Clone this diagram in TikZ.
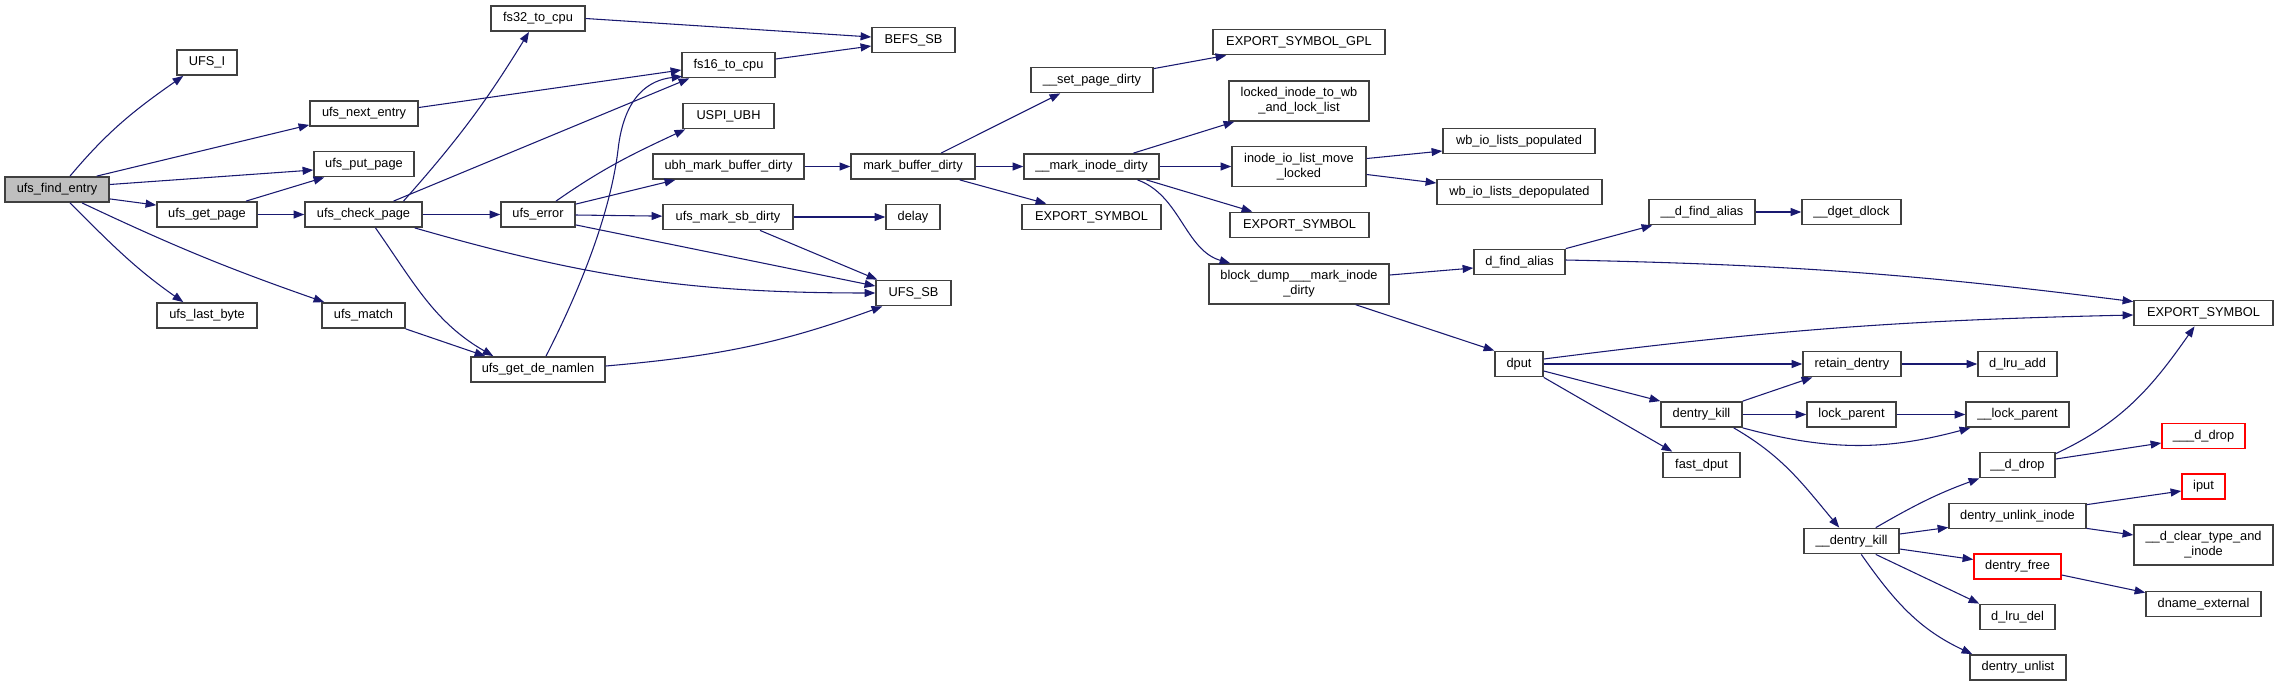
\documentclass[tikz,border=0pt]{standalone}
\usepackage{fontspec}
\setmainfont{Liberation Sans}
\usetikzlibrary{arrows.meta,calc}
\definecolor{callblue}{HTML}{191970}
\definecolor{rootgray}{HTML}{BFBFBF}
\definecolor{boxline}{HTML}{404040}
\begin{document}
\begin{tikzpicture}[x=0.75pt,y=-0.75pt,
  fn/.style={draw=boxline, line width=1.1pt, fill=white, rectangle, inner sep=0pt,
    minimum height=19pt, font=\fontsize{9.6}{11.3}\selectfont, align=center},
  root/.style={fn, fill=rootgray},
  redfn/.style={fn, draw=red},
  tall/.style={minimum height=30pt},
  call/.style={draw=callblue, line width=0.8pt, -{Triangle[length=8pt,width=6pt]}}]
\useasboundingbox (0,0) rectangle (2279,687);
% nodes
\node[root, minimum width=78pt] (find) at (57,189.5) {ufs\_find\_entry};
\node[fn, minimum width=45pt] (ufsi) at (207,62.5) {UFS\_I};
\node[fn, minimum width=81pt] (nextentry) at (364,113.5) {ufs\_next\_entry};
\node[fn, minimum width=75pt] (putpage) at (364,164) {ufs\_put\_page};
\node[fn, minimum width=75pt] (getpage) at (207,214.5) {ufs\_get\_page};
\node[fn, minimum width=87.75pt] (checkpage) at (363.5,214.5) {ufs\_check\_page};
\node[fn, minimum width=75pt] (lastbyte) at (207,315.5) {ufs\_last\_byte};
\node[fn, minimum width=62.25pt] (match) at (363.5,315.5) {ufs\_match};
\node[fn, minimum width=70.5pt] (fs32) at (538,18.5) {fs32\_to\_cpu};
\node[fn, minimum width=100.5pt] (namlen) at (538,369.5) {ufs\_get\_de\_namlen};
\node[fn, minimum width=62.25pt] (befs) at (913.5,40) {BEFS\_SB};
\node[fn, minimum width=69.75pt] (fs16) at (728.5,65) {fs16\_to\_cpu};
\node[fn, minimum width=68.25pt] (uspi) at (728.5,116) {USPI\_UBH};
\node[fn, minimum width=113.25pt] (ubh) at (728.5,166.5) {ubh\_mark\_buffer\_dirty};
\node[fn, minimum width=93pt] (mbd) at (913,166.5) {mark\_buffer\_dirty};
\node[fn, minimum width=55.5pt] (ufserror) at (538,214.5) {ufs\_error};
\node[fn, minimum width=97.5pt] (sbdirty) at (728,217) {ufs\_mark\_sb\_dirty};
\node[fn, minimum width=40.5pt] (delay) at (913,217) {delay};
\node[fn, minimum width=56.25pt] (ufssb) at (913.5,293) {UFS\_SB};
\node[fn, minimum width=129pt] (gpl) at (1299,42) {EXPORT\_SYMBOL\_GPL};
\node[fn, minimum width=91.5pt] (setpage) at (1092,80) {\_\_set\_page\_dirty};
\node[fn, tall, minimum width=105pt] (locked) at (1299,101) {locked\_inode\_to\_wb\\\_and\_lock\_list};
\node[fn, minimum width=101.25pt] (mid) at (1091.5,166.5) {\_\_mark\_inode\_dirty};
\node[fn, tall, minimum width=100.5pt] (iolist) at (1299,166.5) {inode\_io\_list\_move\\\_locked};
\node[fn, minimum width=104.25pt] (exp1) at (1091.5,217) {EXPORT\_SYMBOL};
\node[fn, minimum width=104.25pt] (exp2) at (1299.5,225) {EXPORT\_SYMBOL};
\node[fn, tall, minimum width=135pt] (blockdump) at (1299,284) {block\_dump\_\_\_mark\_inode\\\_dirty};
\node[fn, minimum width=114pt] (wbpop) at (1519,141) {wb\_io\_lists\_populated};
\node[fn, minimum width=123.75pt] (wbdepop) at (1519.5,192) {wb\_io\_lists\_depopulated};
\node[fn, minimum width=79.5pt] (dfa2) at (1702,212) {\_\_d\_find\_alias};
\node[fn, minimum width=74.25pt] (dget) at (1851.5,212) {\_\_dget\_dlock};
\node[fn, minimum width=68.25pt] (dfa) at (1519.5,262) {d\_find\_alias};
\node[fn, minimum width=104.25pt] (exp3) at (2203.5,313) {EXPORT\_SYMBOL};
\node[fn, minimum width=36pt] (dput) at (1519,364) {dput};
\node[fn, minimum width=73.5pt] (retain) at (1852,364) {retain\_dentry};
\node[fn, minimum width=60.75pt] (dkill) at (1701.5,414.5) {dentry\_kill};
\node[fn, minimum width=66.75pt] (lockp) at (1851.5,414.5) {lock\_parent};
\node[fn, minimum width=57.75pt] (fastdput) at (1701.5,465) {fast\_dput};
\node[fn, minimum width=71.25pt] (udkill) at (1851.5,541) {\_\_dentry\_kill};
\node[fn, minimum width=59.25pt] (lruadd) at (2017.5,364) {d\_lru\_add};
\node[fn, minimum width=77.25pt] (ulockp) at (2017.5,414.5) {\_\_lock\_parent};
\node[fn, minimum width=56.25pt] (ddrop) at (2017.5,465) {\_\_d\_drop};
\node[redfn, minimum width=62.25pt] (dddrop) at (2203.5,436) {\_\_\_d\_drop};
\node[redfn, minimum width=32.25pt] (iput) at (2203.5,486.5) {iput};
\node[fn, minimum width=102.75pt] (unlink) at (2017.5,516) {dentry\_unlink\_inode};
\node[fn, tall, minimum width=104.25pt] (clear) at (2203.5,545) {\_\_d\_clear\_type\_and\\\_inode};
\node[redfn, minimum width=65.25pt] (dfree) at (2017.5,566.5) {dentry\_free};
\node[fn, minimum width=86.25pt] (dname) at (2203.5,604) {dname\_external};
\node[fn, minimum width=56.25pt] (lrudel) at (2017.5,617) {d\_lru\_del};
\node[fn, minimum width=72pt] (unlist) at (2018,667.5) {dentry\_unlist};
% edges
\draw[call] ($(find.north)+(13,0)$) to[out=50,in=215] ($(ufsi.south west)+(7,0)$);
\draw[call] ($(find.north east)+(-13,0)$) -- ($(nextentry.south west)+(0,-2)$);
\draw[call] ($(find.east)+(0,-5)$) -- ($(putpage.west)+(0,6)$);
\draw[call] ($(find.south east)+(0,-4)$) -- ($(getpage.north west)+(0,4)$);
\draw[call] ($(find.south)+(13,0)$) to[out=-45,in=145] ($(lastbyte.north west)+(27,0)$);
\draw[call] ($(find.south)+(25,0)$) to[bend right=3] ($(match.north west)+(3,0)$);
\draw[call] ($(getpage.north)+(39,0)$) -- ($(putpage.south west)+(11,0)$);
\draw[call] (getpage) -- (checkpage);
\draw[call] ($(nextentry.east)+(0,-6)$) -- ($(fs16.west)+(0,5)$);
\draw[call] ($(checkpage.north)+(40,0)$) to[bend right=5] ($(fs32.south)+(-9,0)$);
\draw[call] ($(checkpage.north)+(30,0)$) -- ($(fs16.south west)+(8,0)$);
\draw[call] (checkpage) -- (ufserror);
\draw[call] ($(checkpage.south east)+(-8,0)$) to[bend right=8] (ufssb.west);
\draw[call] ($(checkpage.south)+(12,0)$) to[out=-55,in=150] ($(namlen.north west)+(23,0)$);
\draw[call] (match.south east) -- ($(namlen.north west)+(15,0)$);
\draw[call] ($(namlen.north)+(8,0)$) .. controls (590,270) and (612,200) .. (618,150)
   .. controls (624,95) and (650,80) .. ($(fs16.south west)+(1,-2)$);
\draw[call] ($(namlen.east)+(0,-3.5)$) to[out=5,in=200] ($(ufssb.south west)+(7,0)$);
\draw[call] (fs32.east) -- ($(befs.west)+(0,-3)$);
\draw[call] ($(fs16.east)+(0,-6)$) -- ($(befs.west)+(0,6)$);
\draw[call] ($(ufserror.north)+(18,0)$) to[out=35,in=205] ($(uspi.south west)+(3,0)$);
\draw[call] ($(ufserror.north east)+(0,3)$) -- ($(ubh.south west)+(23,0)$);
\draw[call] (ufserror) -- (sbdirty);
\draw[call] ($(ufserror.south east)+(0,-3)$) -- ($(ufssb.west)+(0,-7)$);
\draw[call] (sbdirty) -- (delay);
\draw[call] ($(sbdirty.south)+(32,0)$) -- ($(ufssb.north west)+(2,0)$);
\draw[call] (ubh) -- (mbd);
\draw[call] ($(mbd.north)+(28,0)$) -- ($(setpage.south west)+(30,0)$);
\draw[call] (mbd) -- (mid);
\draw[call] ($(mbd.south east)+(-16,0)$) -- ($(exp1.north west)+(25,0)$);
\draw[call] ($(setpage.north east)+(0,2)$) -- ($(gpl.south west)+(14,0)$);
\draw[call] ($(mid.north)+(42,0)$) -- ($(locked.south west)+(6,0)$);
\draw[call] (mid) -- (iolist);
\draw[call] ($(mid.south)+(55,0)$) -- ($(exp2.north west)+(23,0)$);
\draw[call] ($(mid.south)+(46,0)$) .. controls (1180,195) and (1185,250) .. ($(blockdump.north west)+(22,0)$);
\draw[call] ($(iolist.east)+(0,-8)$) -- ($(wbpop.west)+(0,10)$);
\draw[call] ($(iolist.east)+(0,8)$) -- ($(wbdepop.west)+(0,-9)$);
\draw[call] ($(blockdump.east)+(0,-9)$) -- ($(dfa.west)+(0,6)$);
\draw[call] ($(blockdump.south east)+(-34,0)$) -- (dput.north west);
\draw[call] (dfa.north east) -- ($(dfa2.south west)+(4,0)$);
\draw[call] (dfa2) -- (dget);
\draw[call] ($(dfa.east)+(0,-2)$) to[bend left=3] ($(exp3.north west)+(0,2)$);
\draw[call] ($(dput.east)+(0,-5)$) to[bend left=3] ($(exp3.west)+(0,2)$);
\draw[call] (dput) -- (retain);
\draw[call] ($(dput.east)+(0,7)$) -- (dkill.north west);
\draw[call] (dput.south east) -- ($(fastdput.north west)+(10,0)$);
\draw[call] (dkill.north east) -- ($(retain.south west)+(10,0)$);
\draw[call] (dkill) -- (lockp);
\draw[call] (dkill.south east) to[out=-15,in=195] ($(ulockp.south west)+(5,0)$);
\draw[call] ($(dkill.south east)+(-9,0)$) to[out=-30,in=130] ($(udkill.north west)+(36,0)$);
\draw[call] (retain) -- (lruadd);
\draw[call] (lockp) -- (ulockp);
\draw[call] ($(udkill.north east)+(-24,0)$) to[out=30,in=200] (ddrop.south west);
\draw[call] ($(udkill.east)+(0,-7)$) -- ($(unlink.south west)+(0,-2)$);
\draw[call] ($(udkill.east)+(0,8)$) -- ($(dfree.west)+(0,-7)$);
\draw[call] ($(udkill.south east)+(-24,0)$) -- (lrudel.north west);
\draw[call] ($(udkill.south west)+(58,0)$) to[out=-55,in=155] ($(unlist.north west)+(3,0)$);
\draw[call] ($(ddrop.north east)+(0,2)$) to[out=25,in=235] ($(exp3.south)+(-9,0)$);
\draw[call] ($(ddrop.east)+(0,-6)$) -- ($(dddrop.west)+(0,7)$);
\draw[call] ($(unlink.north east)+(0,2)$) -- ($(iput.west)+(0,4.5)$);
\draw[call] ($(unlink.south east)+(0,-1)$) -- ($(clear.west)+(0,-10)$);
\draw[call] ($(dfree.east)+(0,8.5)$) -- ($(dname.north west)+(0,2)$);
\end{tikzpicture}
\end{document}
